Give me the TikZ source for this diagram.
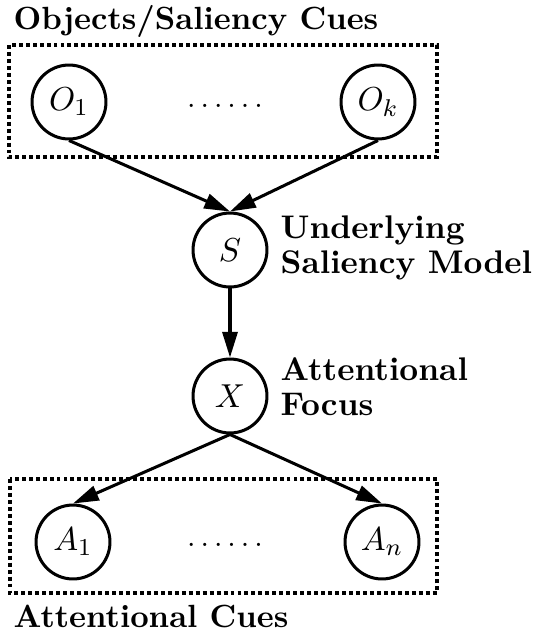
\documentclass[tikz,border=0pt]{standalone}
\usetikzlibrary{arrows.meta}
\begin{document}
\begin{tikzpicture}[x=0.33pt,y=-0.33pt,
  var/.style={circle,draw,line width=1pt,minimum size=24.4pt,inner sep=0pt,font=\fontsize{10.8pt}{12pt}\selectfont},
  plate/.style={draw,line width=1pt,dash pattern=on 1.3pt off 1pt},
  lbl/.style={font=\fontsize{10.8pt}{11.6pt}\selectfont\bfseries,inner sep=0pt,align=left},
  title/.style={font=\fontsize{10.6pt}{11.6pt}\selectfont\bfseries,inner sep=0pt},
  edge/.style={line width=1pt,-{Triangle[length=8.5pt,width=5pt]}}]
\useasboundingbox (0,0) rectangle (533,634);
% plates
\draw[plate] (9,45) rectangle (437,157);
\draw[plate] (10,479) rectangle (437,593);
% variables
\node[var] (O1) at (69,102) {$O_1$};
\node[var] (Ok) at (378,102) {$O_k$};
\node (odots) at (225,106) {$\ldots\ldots$};
\node[var] (S) at (230,250) {$S$};
\node[var] (X) at (230,396) {$X$};
\node[var] (A1) at (73,542) {$A_1$};
\node[var] (An) at (382,542) {$A_n$};
\node (adots) at (225,545) {$\ldots\ldots$};
% labels
\node[title,anchor=base west] (tobj) at (13,30) {Objects/Saliency Cues};
\node[title,anchor=base west] (tatt) at (13,627) {Attentional Cues};
\node[lbl,anchor=north west] (tsal) at (280,215) {Underlying\\Saliency Model};
\node[lbl,anchor=north west] (tfoc) at (280,357) {Attentional\\Focus};
% edges
\draw[edge] (O1.south) -- (S.north);
\draw[edge] (Ok.south) -- (S.north);
\draw[edge] (S.south) -- (X.north);
\draw[edge] (X.south) -- (A1.north);
\draw[edge] (X.south) -- (An.north);
\end{tikzpicture}
\end{document}
